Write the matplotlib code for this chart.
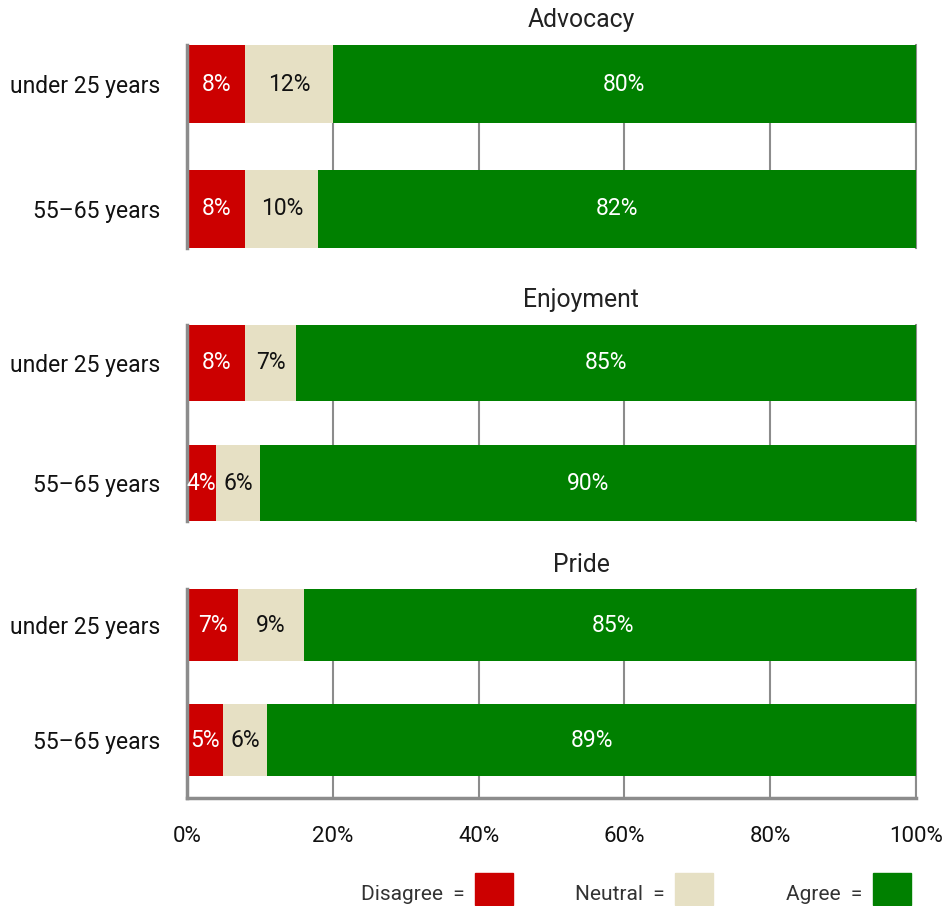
import matplotlib.pyplot as plt
from matplotlib.patches import Rectangle

plt.rcParams["font.family"] = ["Roboto", "DejaVu Sans"]

panels = ["Advocacy", "Enjoyment", "Pride"]
groups = ["under 25 years", "55\u201365 years"]
categories = ["Disagree", "Neutral", "Agree"]

disagree = [[8, 8], [8, 4], [7, 5]]
neutral = [[12, 10], [7, 6], [9, 6]]
agree = [[80, 82], [85, 90], [85, 89]]

x_ticks = [0, 20, 40, 60, 80, 100]
x_tick_labels = ["0%", "20%", "40%", "60%", "80%", "100%"]

colors = ["#cc0000", "#e6e0c4", "#008000"]
text_colors = ["white", "#111111", "white"]
grid_gray = "#8c8c8c"

W, H = 946, 906
fig = plt.figure(figsize=(W / 100, H / 100), dpi=100)

# axes boxes in pixels: (top, bottom, ylim bottom), bars sit at y=0 and y=1
boxes = [(45, 248, 1.315), (325, 521, 1.315), (589, 798, 1.505)]
title_y = [20, 300, 565]
left_px, right_px = 187, 916
bar_h = 0.63

for i, name in enumerate(panels):
    top, bottom, ybot = boxes[i]
    ax = fig.add_axes([left_px / W, 1 - bottom / H, (right_px - left_px) / W, (bottom - top) / H])
    segs = [disagree[i], neutral[i], agree[i]]
    lefts = [0, 0]
    for k, vals in enumerate(segs):
        bars = ax.barh([0, 1], vals, left=lefts, height=bar_h, color=colors[k], zorder=2)
        for j, rect in enumerate(bars):
            ax.text(lefts[j] + vals[j] / 2, j, f"{vals[j]}%", ha="center", va="center",
                    color=text_colors[k], fontsize=16.5, zorder=3)
        lefts = [a + b for a, b in zip(lefts, vals)]

    ax.set_xlim(0, 100)
    ax.set_ylim(ybot, -0.315)
    ax.set_yticks([0, 1])
    ax.set_yticklabels(groups, fontsize=16.5, color="#111111")
    ax.tick_params(axis="y", length=0, pad=19)
    ax.set_xticks(x_ticks)
    ax.xaxis.grid(True, color=grid_gray, linewidth=1.5, zorder=0)
    ax.set_axisbelow(True)
    for s in ["top", "right", "bottom"]:
        ax.spines[s].set_visible(False)
    ax.spines["left"].set_color(grid_gray)
    ax.spines["left"].set_linewidth(2.5)
    ax.axvline(100, color=grid_gray, linewidth=1.5, zorder=0, clip_on=False)
    if i == len(panels) - 1:
        ax.spines["bottom"].set_visible(True)
        ax.spines["bottom"].set_color(grid_gray)
        ax.spines["bottom"].set_linewidth(2.5)
        ax.set_xticklabels(x_tick_labels, fontsize=16, color="#111111")
        ax.tick_params(axis="x", length=0, pad=20)
    else:
        ax.tick_params(axis="x", length=0, labelbottom=False)

    fig.text(581 / W, 1 - title_y[i] / H, name, ha="center", va="center", fontsize=17.8, color="#222222")

# legend row: label text followed by a colour swatch
legend_text_x = [465, 665, 862]
legend_box_x = [475, 675, 873]
for k, cat in enumerate(categories):
    fig.text(legend_text_x[k] / W, 1 - 895 / H, f"{cat}  =", ha="right", va="center",
             fontsize=15, color="#333333")
    fig.patches.append(Rectangle((legend_box_x[k] / W, 1 - 905 / H), 38 / W, 32 / H,
                                 transform=fig.transFigure, color=colors[k]))

fig.savefig("out.png", dpi=100)
